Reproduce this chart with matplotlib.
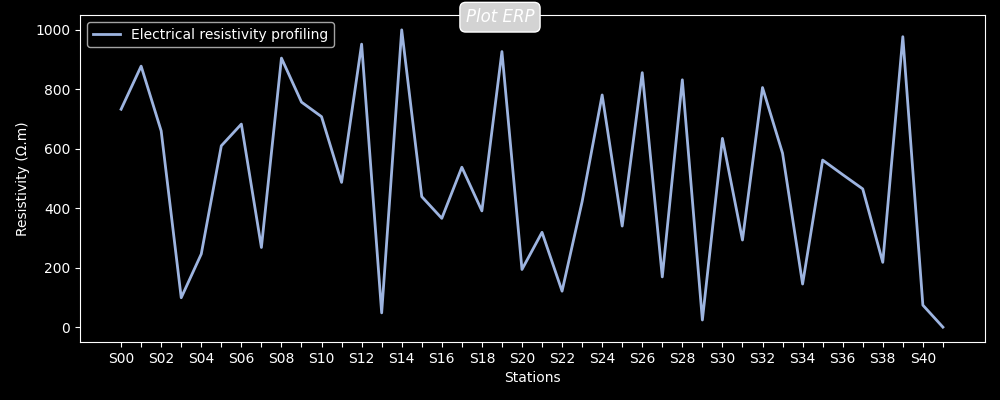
import matplotlib
matplotlib.use("Agg")
import matplotlib.pyplot as plt

# resistivity values
stations = [f"S{i:02d}" for i in range(42)]
resistivity = [733, 878, 660, 99, 246, 610, 683, 268, 905, 757,
               708, 487, 952, 48, 1000, 439, 366, 538, 391, 927,
               194, 319, 121, 422, 781, 340, 856, 169, 832, 24,
               635, 293, 806, 585, 145, 562, 513, 465, 218, 977,
               74, 0]

plt.style.use("dark_background")
fig = plt.figure(figsize=(10, 4), dpi=100)
ax = fig.add_axes([0.08, 0.145, 0.905, 0.8175])

pos = list(range(len(stations)))
ax.plot(pos, resistivity, color="#9db4e0", lw=2, label="Electrical resistivity profiling")

ax.set_xticks(pos)
ax.set_xticklabels([s if i % 2 == 0 else "" for i, s in enumerate(stations)])
ax.set_xlim(-2.05, 43.1)
ax.set_ylim(-50, 1050)
ax.set_xlabel("Stations")
ax.set_ylabel("Resistivity (Ω.m)")
ax.legend(loc="upper left")

fig.text(0.5, 0.957, "Plot ERP", ha="center", va="center", fontsize=12,
         style="italic", color="white",
         bbox=dict(boxstyle="round,pad=0.35", facecolor="lightgray", edgecolor="white"))

fig.savefig("out.png")
